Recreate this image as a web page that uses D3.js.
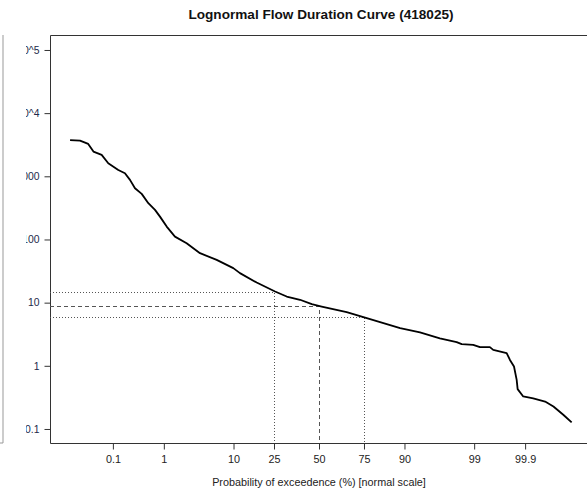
<!DOCTYPE html>
<html>
<head>
<meta charset="utf-8">
<script src="https://cdn.jsdelivr.net/npm/d3@7"></script>
<style>
  html, body { margin: 0; padding: 0; background: #fff; }
  svg { display: block; font-family: "Liberation Sans", Arial, sans-serif; }
</style>
</head>
<body>
<svg id="chart" width="587" height="490"></svg>
<script>
// ---- data ----
const exceedancePct = [0.0095, 0.017, 0.027, 0.036, 0.056, 0.079, 0.131, 0.181, 0.230, 0.290,
  0.393, 0.525, 0.697, 0.856, 1.12, 1.54, 2.36, 3.72, 6.25, 9.94,
  11.8, 17.5, 25.5, 31.4, 38.8, 45.7, 51.6, 66.1, 76.3, 83.3,
  88.8, 93.5, 96.5, 98.05, 98.38, 98.96, 99.21, 99.48, 99.55, 99.755,
  99.79, 99.827, 99.848, 99.855, 99.890, 99.934, 99.965, 99.978, 99.9875, 99.9924];
const flow = [3750, 3670, 3260, 2460, 2180, 1610, 1260, 1120, 877, 648,
  527, 375, 294, 230, 160, 111, 87.3, 60.7, 47.5, 35.2,
  29.3, 20.8, 15.0, 12.5, 11.1, 9.46, 8.67, 7.08, 5.69, 4.74,
  3.95, 3.37, 2.72, 2.37, 2.20, 2.15, 1.98, 1.98, 1.79, 1.59,
  1.24, 0.975, 0.600, 0.428, 0.327, 0.304, 0.272, 0.227, 0.168, 0.127];
const guideProbs = [25, 50, 75];
const guideFlows = [15.0, 8.9, 5.9];
const guideStyles = ["1,2", "4,3", "1,2"];
const xTicks = [0.1, 1, 10, 25, 50, 75, 90, 99, 99.9];
const xTickLabels = ["0.1", "1", "10", "25", "50", "75", "90", "99", "99.9"];
const yTicks = [0.1, 1, 10, 100, 1000, 10000, 100000];
const yTickLabels = ["0.1", "1", "10", "100", "1000", "10^4", "10^5"];
const titleText = "Lognormal Flow Duration Curve (418025)";
const xTitle = "Probability of exceedence (%) [normal scale]";

// inverse standard normal CDF (Acklam)
function qnorm(p) {
  const a = [-3.969683028665376e+01, 2.209460984245205e+02, -2.759285104469687e+02, 1.383577518672690e+02, -3.066479806614716e+01, 2.506628277459239e+00];
  const b = [-5.447609879822406e+01, 1.615858368580409e+02, -1.556989798598866e+02, 6.680131188771972e+01, -1.328068155288572e+01];
  const c = [-7.784894002430293e-03, -3.223964580411365e-01, -2.400758277161838e+00, -2.549671010848460e+00, 4.374664141464968e+00, 2.938163982698783e+00];
  const d = [7.784695709041462e-03, 3.224671290700398e-01, 2.445134137142996e+00, 3.754408661907416e+00];
  const pl = 0.02425, ph = 1 - pl;
  let q, r;
  if (p < pl) {
    q = Math.sqrt(-2 * Math.log(p));
    return (((((c[0]*q+c[1])*q+c[2])*q+c[3])*q+c[4])*q+c[5]) / ((((d[0]*q+d[1])*q+d[2])*q+d[3])*q+1);
  } else if (p <= ph) {
    q = p - 0.5; r = q * q;
    return (((((a[0]*r+a[1])*r+a[2])*r+a[3])*r+a[4])*r+a[5])*q / (((((b[0]*r+b[1])*r+b[2])*r+b[3])*r+b[4])*r+1);
  } else {
    q = Math.sqrt(-2 * Math.log(1 - p));
    return -(((((c[0]*q+c[1])*q+c[2])*q+c[3])*q+c[4])*q+c[5]) / ((((d[0]*q+d[1])*q+d[2])*q+d[3])*q+1);
  }
}

const svg = d3.select("#chart");
const L = 50, T = 35, B = 443, R = 592;

const zScale = d3.scaleLinear().domain([-4.033, 4.018]).range([L, 587]);
const x = p => zScale(qnorm(p / 100));
const y = d3.scaleLog().domain([Math.pow(10, -1.222), Math.pow(10, 5.237)]).range([B, T]);

const ink = "#333";

// left panel edge
svg.append("path").attr("d", `M0,${B} H3 V${T}`).attr("fill", "none").attr("stroke", "#999").attr("stroke-width", 1);

// title
svg.append("text").attr("x", 321).attr("y", 18.5).attr("text-anchor", "middle")
  .attr("font-weight", "bold").attr("font-size", 13.6).attr("fill", "#111").text(titleText);

// clip for y labels (in svg coordinates)
svg.append("clipPath").attr("id", "yclip").append("rect").attr("x", 26).attr("y", 0).attr("width", 600).attr("height", 490);

// plot box (right side off-canvas)
svg.append("path").attr("d", `M${R},${T + 0.5} H${L + 0.5} V${B + 0.5} H${R}`)
  .attr("fill", "none").attr("stroke", ink).attr("stroke-width", 1);

// y axis
const yAxis = d3.axisLeft(y).tickValues(yTicks).tickSize(6).tickPadding(5)
  .tickFormat((d, i) => yTickLabels[i]);
const gyOuter = svg.append("g").attr("clip-path", "url(#yclip)");
const gy = gyOuter.append("g").attr("transform", `translate(${L + 0.5},0)`).call(yAxis);
gy.select(".domain").remove();
gy.selectAll("line").attr("stroke", ink);
gy.selectAll("text").attr("font-size", 10.4).attr("fill", "#1d2a4a").attr("font-family", "Liberation Sans, Arial, sans-serif");

// x axis
const xAxis = d3.axisBottom(zScale).tickValues(xTicks.map(p => qnorm(p / 100))).tickSize(6).tickPadding(6)
  .tickFormat((d, i) => xTickLabels[i]);
const gx = svg.append("g").attr("transform", `translate(0,${B + 0.5})`).call(xAxis);
gx.select(".domain").remove();
gx.selectAll("line").attr("stroke", ink);
gx.selectAll("text").attr("font-size", 10.8).attr("fill", "#222").attr("font-family", "Liberation Sans, Arial, sans-serif");

// axis title
svg.append("text").attr("x", 319).attr("y", 485.5).attr("text-anchor", "middle")
  .attr("font-size", 10.8).attr("fill", "#222").text(xTitle);

// guides
guideProbs.forEach((p, i) => {
  const gxp = Math.round(x(p)) + 0.5, gyp = Math.round(y(guideFlows[i])) + 0.5;
  svg.append("path").attr("d", `M${L},${gyp} H${gxp} V${B}`)
    .attr("fill", "none").attr("stroke", "#555").attr("stroke-width", 1)
    .attr("stroke-dasharray", guideStyles[i]);
});

// curve
const line = d3.line().x((d, i) => x(exceedancePct[i])).y(d => y(d)).curve(d3.curveLinear);
svg.append("path").datum(flow).attr("d", line).attr("fill", "none")
  .attr("stroke", "#000").attr("stroke-width", 1.8).attr("stroke-linejoin", "round");
</script>
</body>
</html>
